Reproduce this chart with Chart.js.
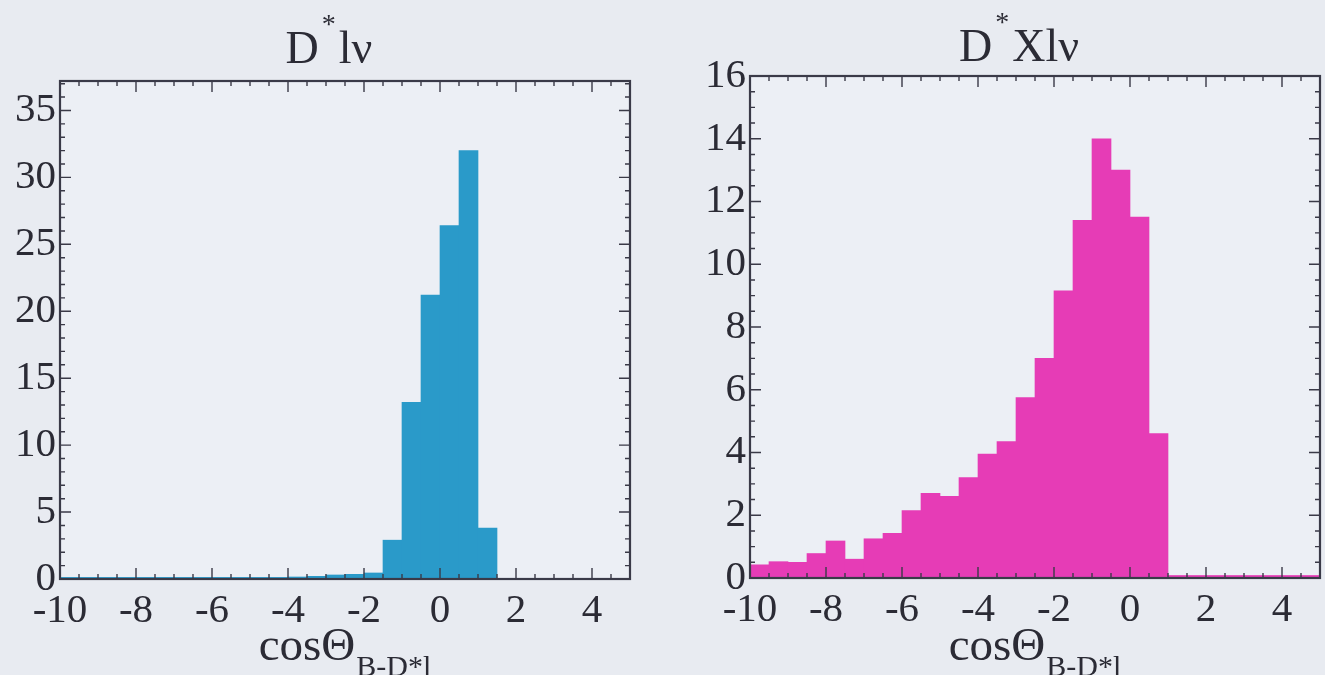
<!DOCTYPE html>
<html>
<head>
<meta charset="utf-8">
<script src="https://cdn.jsdelivr.net/npm/chart.js@4.4.1/dist/chart.umd.min.js"></script>
<style>
  html, body { margin: 0; padding: 0; background: #e8ebf1; }
  #wrap { position: relative; width: 1325px; height: 675px; overflow: hidden; }
  canvas { position: absolute; top: 0; }
</style>
</head>
<body>
<div id="wrap">
  <canvas id="dstarLnu" width="662" height="675" style="left:0"></canvas>
  <canvas id="dstarXlnu" width="663" height="675" style="left:662px"></canvas>
</div>
<script>
// cos(theta_B-D*l) histograms, bins of 0.5 from -10 to 5
const binCenters = [
    -9.75, -9.25, -8.75, -8.25, -7.75, -7.25, -6.75, -6.25, -5.75, -5.25,
    -4.75, -4.25, -3.75, -3.25, -2.75, -2.25, -1.75, -1.25, -0.75, -0.25,
    0.25, 0.75, 1.25, 1.75, 2.25, 2.75, 3.25, 3.75, 4.25, 4.75
];

// D* l nu (signal)
const dstarLnuCounts = [
    0.12, 0.12, 0.12, 0.12, 0.12, 0.12, 0.12, 0.12, 0.12, 0.12,
    0.12, 0.12, 0.15, 0.2, 0.3, 0.35, 0.45, 2.9, 13.2, 21.2,
    26.4, 32.0, 3.8, 0, 0, 0, 0, 0, 0, 0
];

// D* X l nu (background)
const dstarXlnuCounts = [
    0.42, 0.52, 0.5, 0.78, 1.18, 0.6, 1.25, 1.42, 2.15, 2.7,
    2.6, 3.2, 3.95, 4.35, 5.75, 7.0, 9.15, 11.4, 14.0, 13.0,
    11.5, 4.6, 0.08, 0.08, 0.08, 0.08, 0.08, 0.08, 0.08, 0.08
];

const SERIF = '"Liberation Serif", "DejaVu Serif", serif';
const INK = '#2b2b35';

// inward ticks on all four sides + box frame
const frameTicks = {
    id: 'frameTicks',
    beforeDatasetsDraw(chart, args, opts) {
        const { ctx, chartArea: a } = chart;
        ctx.save();
        ctx.fillStyle = opts.plotBg;
        ctx.fillRect(a.left, a.top, a.right - a.left, a.bottom - a.top);
        ctx.restore();
    },
    afterDatasetsDraw(chart, args, opts) {
        const { ctx, chartArea: a, scales } = chart;
        const x = scales.x, y = scales.y;
        ctx.save();
        ctx.strokeStyle = opts.color;
        ctx.lineWidth = 1.4;
        ctx.beginPath();
        const xMark = (v, len) => {
            const px = x.getPixelForValue(v);
            ctx.moveTo(px, a.bottom); ctx.lineTo(px, a.bottom - len);
            ctx.moveTo(px, a.top); ctx.lineTo(px, a.top + len);
        };
        const yMark = (v, len) => {
            const py = y.getPixelForValue(v);
            ctx.moveTo(a.left, py); ctx.lineTo(a.left + len, py);
            ctx.moveTo(a.right, py); ctx.lineTo(a.right - len, py);
        };
        for (let v = x.min; v <= x.max + 1e-9; v += opts.xMinor) xMark(v, 5);
        for (let v = y.min; v <= y.max + 1e-9; v += opts.yMinor) yMark(v, 5);
        x.ticks.forEach(t => xMark(t.value, 11));
        y.ticks.forEach(t => yMark(t.value, 11));
        ctx.stroke();
        ctx.lineWidth = 2.2;
        ctx.strokeRect(a.left, a.top, a.right - a.left, a.bottom - a.top);
        ctx.restore();
    }
};

// text with super/subscripts: parts = [[text, size, dy, gapAfter], ...]
function drawRich(ctx, parts, cx, baseline) {
    let total = 0;
    parts.forEach(p => {
        ctx.font = p[1] + 'px ' + SERIF;
        total += ctx.measureText(p[0]).width + (p[3] || 0);
    });
    let xPos = cx - total / 2;
    ctx.textAlign = 'left';
    ctx.textBaseline = 'alphabetic';
    parts.forEach(p => {
        ctx.font = p[1] + 'px ' + SERIF;
        ctx.fillText(p[0], xPos, baseline + p[2]);
        xPos += ctx.measureText(p[0]).width + (p[3] || 0);
    });
}

const richTitles = {
    id: 'richTitles',
    afterDraw(chart, args, opts) {
        const { ctx, chartArea: a } = chart;
        const cx = (a.left + a.right) / 2;
        ctx.save();
        ctx.fillStyle = INK;
        drawRich(ctx, opts.title, cx - 16, opts.titleBaseline);
        drawRich(ctx, [['cos\u0398', 47, 0, 1], ['B-D*l', 30, 16]], cx, 660);
        ctx.restore();
    }
};

function makeHist(canvasId, counts, color, cfg) {
    const canvas = document.getElementById(canvasId);
    if (!canvas) {
        console.error(`Canvas with id '${canvasId}' not found.`);
        return null;
    }
    return new Chart(canvas.getContext('2d'), {
        type: 'bar',
        data: {
            datasets: [{
                data: binCenters.map((c, i) => ({ x: c, y: counts[i] })),
                backgroundColor: color,
                borderWidth: 0,
                barPercentage: 1,
                categoryPercentage: 1,
            }]
        },
        options: {
            responsive: false,
            animation: false,
            layout: { padding: { top: cfg.top, right: cfg.right, left: 0, bottom: 0 } },
            plugins: {
                legend: { display: false },
                tooltip: { enabled: false },
                frameTicks: { color: '#3a3a48', plotBg: '#eceff5', xMinor: 0.5, yMinor: cfg.yMinor },
                richTitles: { title: cfg.title, titleBaseline: cfg.titleBaseline },
            },
            scales: {
                x: {
                    type: 'linear',
                    min: -10, max: 5,
                    offset: false,
                    grid: { display: false, drawTicks: false },
                    border: { display: false },
                    ticks: {
                        stepSize: 2, includeBounds: false, padding: 8,
                        color: INK, font: { family: SERIF, size: 41 },
                        maxRotation: 0, autoSkip: false,
                    },
                    afterFit: s => { s.height = cfg.xHeight; },
                },
                y: {
                    min: 0, max: cfg.yMax,
                    grid: { display: false, drawTicks: false },
                    border: { display: false },
                    ticks: {
                        stepSize: cfg.yStep, includeBounds: false, padding: 4,
                        color: INK, font: { family: SERIF, size: 41 },
                    },
                    afterFit: s => { s.width = cfg.yWidth; },
                }
            }
        },
        plugins: [frameTicks, richTitles]
    });
}

document.addEventListener('DOMContentLoaded', () => {
    makeHist('dstarLnu', dstarLnuCounts, '#2a9ac9', {
        top: 81, right: 32, yWidth: 60, xHeight: 96,
        yMax: 37.2, yStep: 5, yMinor: 1,
        title: [['D', 46, 0, 3], ['*', 28, -30, 3], ['l\u03bd', 46, 0]],
        titleBaseline: 63,
    });
    makeHist('dstarXlnu', dstarXlnuCounts, '#e63cb6', {
        top: 76, right: 5, yWidth: 88, xHeight: 97,
        yMax: 16, yStep: 2, yMinor: 0.5,
        title: [['D', 46, 0, 3], ['*', 28, -30, 3], ['Xl\u03bd', 46, 0]],
        titleBaseline: 61,
    });
});
</script>
</body>
</html>
